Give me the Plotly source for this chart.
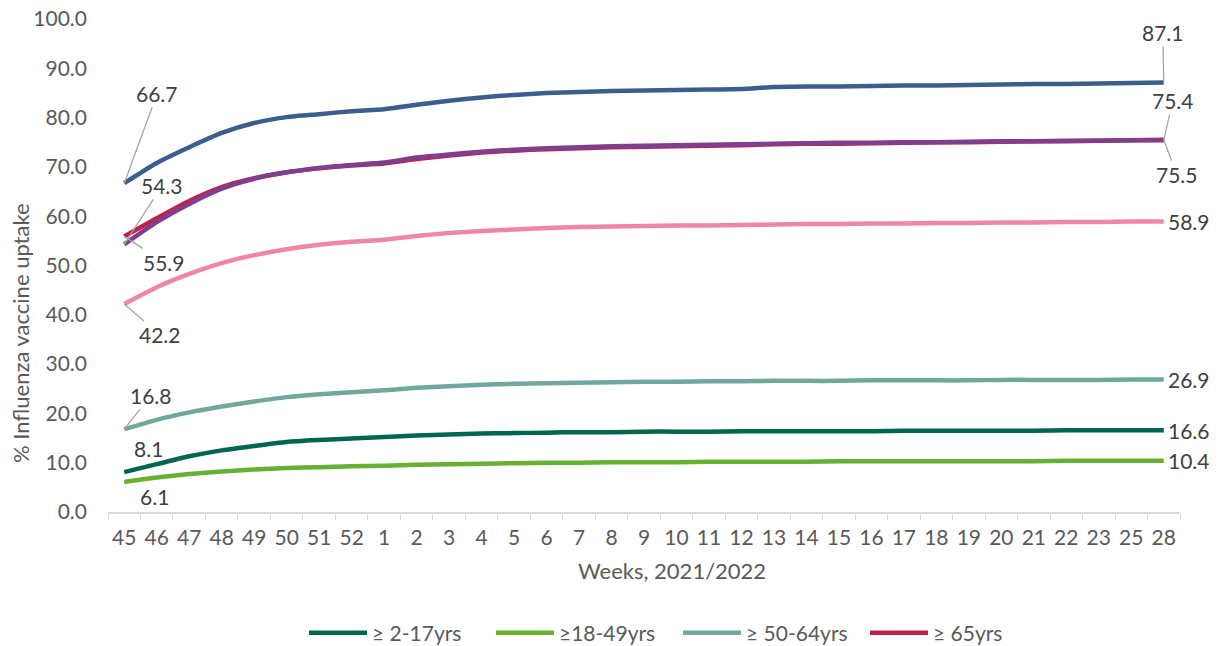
import plotly.graph_objects as go

weeks = ["45", "46", "47", "48", "49", "50", "51", "52", "1", "2", "3", "4", "5", "6", "7", "8",
         "9", "10", "11", "12", "13", "14", "15", "16", "17", "18", "19", "20", "21", "22", "23", "25", "28"]

blue_vals = [66.7, 70.8, 74.0, 76.9, 78.9, 80.1, 80.7, 81.3, 81.7, 82.6, 83.4, 84.1, 84.6, 85.0, 85.2, 85.4,
             85.5, 85.6, 85.7, 85.8, 86.2, 86.3, 86.3, 86.4, 86.5, 86.5, 86.6, 86.7, 86.8, 86.8, 86.9, 87.0, 87.1]
purple_vals = [54.3, 58.8, 62.5, 65.6, 67.6, 68.9, 69.8, 70.4, 70.9, 71.9, 72.5, 73.1, 73.5, 73.8, 74.0, 74.2,
               74.3, 74.4, 74.5, 74.6, 74.7, 74.8, 74.9, 74.9, 75.0, 75.0, 75.1, 75.2, 75.2, 75.3, 75.3, 75.4, 75.4]
age65_vals = [55.9, 59.6, 63.1, 65.9, 67.7, 68.9, 69.7, 70.3, 70.7, 71.6, 72.3, 72.9, 73.3, 73.6, 73.8, 74.0,
              74.1, 74.2, 74.3, 74.4, 74.6, 74.7, 74.7, 74.8, 74.9, 75.0, 75.0, 75.1, 75.2, 75.2, 75.3, 75.4, 75.5]
pink_vals = [42.2, 45.6, 48.3, 50.5, 52.1, 53.3, 54.2, 54.8, 55.2, 56.0, 56.6, 57.0, 57.3, 57.6, 57.8, 57.9,
             58.0, 58.1, 58.1, 58.2, 58.3, 58.4, 58.4, 58.5, 58.5, 58.6, 58.6, 58.7, 58.7, 58.8, 58.8, 58.9, 58.9]
age50_64_vals = [16.8, 18.7, 20.2, 21.4, 22.4, 23.3, 23.9, 24.3, 24.7, 25.2, 25.5, 25.8, 26.0, 26.1, 26.2, 26.3,
                 26.4, 26.4, 26.5, 26.5, 26.6, 26.6, 26.6, 26.7, 26.7, 26.7, 26.7, 26.8, 26.8, 26.8, 26.8, 26.9, 26.9]
age2_17_vals = [8.1, 9.7, 11.3, 12.5, 13.4, 14.2, 14.6, 14.9, 15.2, 15.5, 15.7, 15.9, 16.0, 16.1, 16.2, 16.2,
                16.3, 16.3, 16.3, 16.4, 16.4, 16.4, 16.4, 16.4, 16.5, 16.5, 16.5, 16.5, 16.5, 16.6, 16.6, 16.6, 16.6]
age18_49_vals = [6.1, 7.0, 7.7, 8.2, 8.6, 8.9, 9.1, 9.3, 9.4, 9.6, 9.7, 9.8, 9.9, 10.0, 10.0, 10.1,
                 10.1, 10.1, 10.2, 10.2, 10.2, 10.2, 10.3, 10.3, 10.3, 10.3, 10.3, 10.3, 10.3, 10.4, 10.4, 10.4, 10.4]

y_ticks = [0, 10, 20, 30, 40, 50, 60, 70, 80, 90, 100]

FONT = "Lato"
TXT = "#595959"
LBL = "#404040"
FS = 21

fig = go.Figure()

series = [
    ("≥ 2-17yrs", age2_17_vals, "#00664F", True),
    ("≥18-49yrs", age18_49_vals, "#66B032", True),
    ("≥ 50-64yrs", age50_64_vals, "#70A89C", True),
    ("≥ 65yrs", age65_vals, "#C0204A", True),
    ("pink", pink_vals, "#EE88A2", False),
    ("purple", purple_vals, "#7F3F8C", False),
    ("blue", blue_vals, "#3B5E8C", False),
]
for name, vals, col, show in series:
    fig.add_trace(go.Scatter(
        x=weeks, y=vals, name=name, mode="lines",
        line=dict(color=col, width=4.5, shape="spline", smoothing=0.6),
        showlegend=show,
    ))

def lab(i, y, ax, ay, arrow=True, anchor="center"):
    text = f"{y:.1f}"
    if arrow:
        fig.add_annotation(x=i, y=y, text=text, showarrow=True, arrowhead=0, arrowwidth=1.3,
                           arrowcolor="#A6A6A6", ax=ax, ay=ay, standoff=0,
                           font=dict(family=FONT, size=FS, color=LBL))
    else:
        fig.add_annotation(x=i, y=y, text=text, showarrow=False, xshift=ax, yshift=-ay,
                           xanchor=anchor, font=dict(family=FONT, size=FS, color=LBL))

first, last = 0, len(weeks) - 1
lab(first, blue_vals[0], 33, -90)
lab(first, purple_vals[0], 38, -59)
lab(first, age65_vals[0], 40, 26)
lab(first, pink_vals[0], 36, 31)
lab(first, age50_64_vals[0], 27, -34)
lab(first, age2_17_vals[0], 24, -24, arrow=False)
lab(first, age18_49_vals[0], 30, 15, arrow=False)

lab(last, blue_vals[-1], -1, -50)
lab(last, purple_vals[-1], 9, -40)
lab(last, age65_vals[-1], 13, 35)
lab(last, pink_vals[-1], 2, 0, arrow=False, anchor="left")
lab(last, age50_64_vals[-1], 2, 0, arrow=False, anchor="left")
lab(last, age2_17_vals[-1], 2, 0, arrow=False, anchor="left")
lab(last, age18_49_vals[-1], 2, 0, arrow=False, anchor="left")

fig.add_annotation(text="Weeks, 2021/2022", xref="paper", yref="paper", x=(672 - 108) / 1072, y=(512 - 570) / 493,
                   xanchor="center", yanchor="middle", showarrow=False,
                   font=dict(family=FONT, size=22, color=TXT))
fig.add_annotation(text="% Influenza vaccine uptake", xref="paper", yref="paper", x=(20 - 108) / 1072,
                   y=(512 - 333) / 493, xanchor="center", yanchor="middle", textangle=-90, showarrow=False,
                   font=dict(family=FONT, size=22, color=TXT))

fig.update_layout(
    width=1221, height=646,
    margin=dict(l=108, r=41, t=19, b=134, autoexpand=False),
    paper_bgcolor="white", plot_bgcolor="white",
    font=dict(family=FONT, size=FS, color=TXT),
    showlegend=True,
    legend=dict(orientation="h", xref="container", yref="container", x=304 / 1221, xanchor="left",
                y=(646 - 633) / 646, yanchor="middle",
                entrywidth=114, entrywidthmode="pixels", itemwidth=58,
                font=dict(family=FONT, size=FS, color=TXT), traceorder="normal"),
    xaxis=dict(type="category", range=[-0.5, len(weeks) - 0.5], showgrid=False, automargin=False,
               showline=True, linecolor="#D9D9D9", linewidth=1.5,
               ticks="outside", tickson="boundaries", ticklen=6, tickcolor="#D9D9D9",
               ticklabelstandoff=6,
               tickfont=dict(family=FONT, size=FS, color=TXT), tickangle=0),
    yaxis=dict(range=[0, 100], tickvals=y_ticks, ticktext=[f"{v:.1f}" for v in y_ticks], automargin=False,
               showgrid=False, showline=False, zeroline=False, ticks="", ticklabelstandoff=20,
               tickfont=dict(family=FONT, size=FS, color=TXT)),
)

fig.write_html("out.html", config={"displayModeBar": False},
               post_script="document.body.style.margin='0';")
